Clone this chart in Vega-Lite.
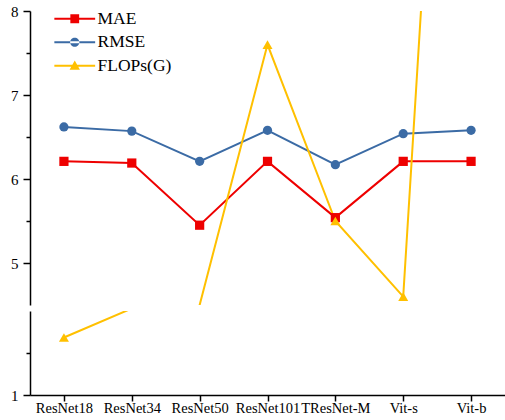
{
  "$schema": "https://vega.github.io/schema/vega-lite/v6.json",
  "padding": {"left": 10, "top": 4, "right": 0, "bottom": 0},
  "datasets": {
    "main": [
      {"model": "ResNet18", "metric": "MAE", "value": 6.21},
      {"model": "ResNet34", "metric": "MAE", "value": 6.19},
      {"model": "ResNet50", "metric": "MAE", "value": 5.45},
      {"model": "ResNet101", "metric": "MAE", "value": 6.21},
      {"model": "TResNet-M", "metric": "MAE", "value": 5.54},
      {"model": "Vit-s", "metric": "MAE", "value": 6.21},
      {"model": "Vit-b", "metric": "MAE", "value": 6.21},
      {"model": "ResNet18", "metric": "RMSE", "value": 6.62},
      {"model": "ResNet34", "metric": "RMSE", "value": 6.57},
      {"model": "ResNet50", "metric": "RMSE", "value": 6.21},
      {"model": "ResNet101", "metric": "RMSE", "value": 6.58},
      {"model": "TResNet-M", "metric": "RMSE", "value": 6.17},
      {"model": "Vit-s", "metric": "RMSE", "value": 6.54},
      {"model": "Vit-b", "metric": "RMSE", "value": 6.58},
      {"model": "ResNet18", "metric": "FLOPs(G)", "value": 2.37},
      {"model": "ResNet34", "metric": "FLOPs(G)", "value": 3.06},
      {"model": "ResNet50", "metric": "FLOPs(G)", "value": 4.5},
      {"model": "ResNet101", "metric": "FLOPs(G)", "value": 7.6},
      {"model": "TResNet-M", "metric": "FLOPs(G)", "value": 5.5},
      {"model": "Vit-s", "metric": "FLOPs(G)", "value": 4.6},
      {"model": "Vit-b", "metric": "FLOPs(G)", "value": 17.6}
    ]
  },
  "config": {
    "view": {"stroke": null},
    "font": "Liberation Serif",
    "axis": {
      "domainColor": "#000000",
      "domainWidth": 1.5,
      "tickColor": "#000000",
      "tickWidth": 1.5,
      "labelColor": "#000000",
      "labelFont": "Liberation Serif",
      "grid": false,
      "title": null
    }
  },
  "spacing": 6,
  "resolve": {"scale": {"color": "independent"}, "legend": {"color": "independent"}},
  "vconcat": [
    {
      "width": 475,
      "height": 294,
      "data": {"name": "main"},
      "encoding": {
        "x": {"field": "model", "type": "nominal", "sort": ["ResNet18", "ResNet34", "ResNet50", "ResNet101", "TResNet-M", "Vit-s", "Vit-b"], "scale": {"type": "point", "padding": 0.5}, "axis": null},
        "y": {"field": "value", "type": "quantitative", "scale": {"domain": [4.5, 8], "zero": false, "nice": false},
          "axis": {"values": [5, 5.5, 6, 6.5, 7, 7.5, 8], "labelExpr": "datum.value % 1 === 0 ? format(datum.value, 'd') : ''", "labelFont": "Liberation Serif", "labelFontSize": 15, "labelPadding": 5,
            "tickSize": {"condition": {"test": "datum.value % 1 === 0", "value": 7}, "value": 4}}},
        "color": {"field": "metric", "type": "nominal", "scale": {"domain": ["MAE", "RMSE", "FLOPs(G)"], "range": ["#EE0000", "#3B6BA5", "#FFC000"]},
          "legend": {
            "title": null, "orient": "none", "legendX": 36, "legendY": -1, "padding": 0,
            "symbolSize": 64, "labelFontSize": 17.5, "labelFont": "Liberation Serif", "labelColor": "#000000", "labelOffset": 14,
            "rowPadding": 4.5, "symbolStrokeWidth": 0,
            "encode": {"symbols": {"update": {
              "shape": {"signal": "datum.value === 'MAE' ? 'M-5.1,-0.25H5.1V0.25H-5.1Z M-1.1,-1.1H1.1V1.1H-1.1Z' : datum.value === 'RMSE' ? 'M-5.1,-0.25H5.1V0.25H-5.1Z M-1.15,0A1.15,1.15 0 1,0 1.15,0A1.15,1.15 0 1,0 -1.15,0Z' : 'M-5.1,-0.25H5.1V0.25H-5.1Z M0,-1.3L1.3,1H-1.3Z'"},
              "fill": {"signal": "datum.value === 'MAE' ? '#EE0000' : datum.value === 'RMSE' ? '#3B6BA5' : '#FFC000'"},
              "strokeWidth": {"value": 0}
            }}}
          }}
      },
      "layer": [
        {"mark": {"type": "line", "strokeWidth": 2, "clip": true}},
        {"transform": [{"filter": "datum.metric === 'MAE'"}],
         "mark": {"type": "point", "shape": "square", "filled": true, "opacity": 1, "size": 85, "clip": true}},
        {"transform": [{"filter": "datum.metric === 'RMSE'"}],
         "mark": {"type": "point", "shape": "circle", "filled": true, "opacity": 1, "size": 85, "clip": true}},
        {"transform": [{"filter": "datum.metric === 'FLOPs(G)' && datum.value >= 4.55 && datum.value <= 8"}],
         "mark": {"type": "point", "shape": "triangle-up", "filled": true, "opacity": 1, "size": 100, "clip": true}}
      ]
    },
    {
      "width": 475,
      "height": 84,
      "data": {"name": "main"},
      "encoding": {
        "x": {"field": "model", "type": "nominal", "sort": ["ResNet18", "ResNet34", "ResNet50", "ResNet101", "TResNet-M", "Vit-s", "Vit-b"], "scale": {"type": "point", "padding": 0.5},
          "axis": {"labelAngle": 0, "labelFont": "Liberation Serif", "labelFontSize": 14.5, "tickSize": 6, "labelPadding": 0, "domainWidth": 1.5}},
        "y": {"field": "value", "type": "quantitative", "scale": {"domain": [1, 3], "zero": false, "nice": false},
          "axis": {"values": [1, 2], "labelExpr": "datum.value === 1 ? '1' : ''", "labelFont": "Liberation Serif", "labelFontSize": 15, "labelPadding": 5,
            "tickSize": {"condition": {"test": "datum.value === 1", "value": 7}, "value": 4}}},
        "color": {"field": "metric", "type": "nominal", "scale": {"domain": ["MAE", "RMSE", "FLOPs(G)"], "range": ["#EE0000", "#3B6BA5", "#FFC000"]}, "legend": null}
      },
      "layer": [
        {"mark": {"type": "line", "strokeWidth": 2, "clip": true}},
        {"transform": [{"filter": "datum.metric === 'FLOPs(G)' && datum.value >= 1 && datum.value <= 2.9"}],
         "mark": {"type": "point", "shape": "triangle-up", "filled": true, "opacity": 1, "size": 100, "clip": true}}
      ]
    }
  ]
}
